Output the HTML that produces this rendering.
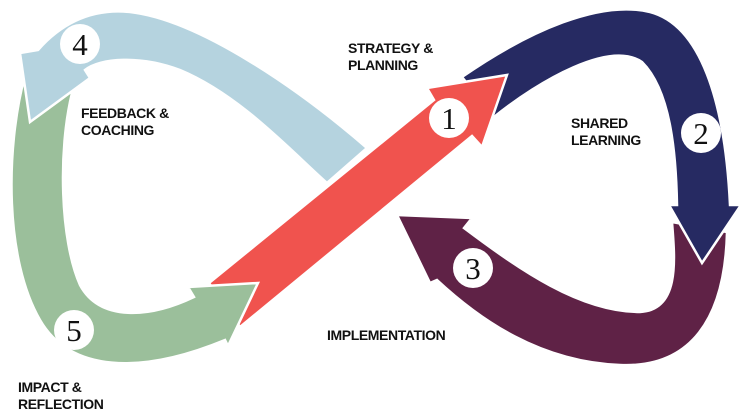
<!DOCTYPE html>
<html><head><meta charset="utf-8"><style>
html,body{margin:0;padding:0;background:#fff;}
svg{display:block}
.l{font-family:"Liberation Sans",sans-serif;font-weight:bold;font-size:14px;fill:#111;letter-spacing:-0.4px}
.n{font-family:"Liberation Serif",serif;font-size:31px;fill:#111;text-anchor:middle}
</style></head><body>
<svg width="744" height="418" viewBox="0 0 744 418">
<g stroke="#fff" stroke-width="2.5" stroke-linejoin="miter">
<path fill="#5f2246" d="M727,232 C725,320 690,368 620,365 C540,362 480,320 437,280 L430,283 L397,215 L472,218 L464,228 C520,270 580,312 640,312 C680,310 675,260 672,222 Z"/>
<path fill="#262a62" d="M462,77 C530,30 600,0 650,12 C700,25 725,100 730,205 L741,205 L702,263 L669,205 L677,205 C676,150 670,90 642,62 C610,40 540,80 494,117 Z"/>
<path fill="#f0534e" d="M209,283 L434,100 L427,88 L507,75 L482,147 L472,136 L240,327 Z"/>
<path fill="#9bbf9b" d="M25,75 C5,150 5,260 40,320 C70,372 140,375 225,340 L228,346 L258,283 L188,287 L194,297 C150,318 100,322 80,285 C60,240 58,150 72,93 Z"/>
<path fill="#b5d3df" d="M367,148 C300,90 200,20 130,12 C90,8 60,25 38,50 L20,53 L30,122 L90,78 L85,70 C100,58 140,55 180,70 C240,95 290,150 327,183 Z"/>
</g>
<g fill="#fff">
<circle cx="80" cy="44" r="20"/><circle cx="449" cy="118" r="20"/><circle cx="701" cy="133" r="20"/><circle cx="473" cy="268" r="20"/><circle cx="74" cy="330" r="20"/>
</g>
<text class="n" x="80" y="55">4</text>
<text class="n" x="449" y="129">1</text>
<text class="n" x="701" y="144">2</text>
<text class="n" x="473" y="279">3</text>
<text class="n" x="74" y="341">5</text>
<text class="l" x="348" y="53">STRATEGY &amp;</text>
<text class="l" x="348" y="70">PLANNING</text>
<text class="l" x="571" y="128">SHARED</text>
<text class="l" x="571" y="145">LEARNING</text>
<text class="l" x="81" y="118">FEEDBACK &amp;</text>
<text class="l" x="81" y="135">COACHING</text>
<text class="l" x="327" y="340">IMPLEMENTATION</text>
<text class="l" x="18" y="392">IMPACT &amp;</text>
<text class="l" x="18" y="409">REFLECTION</text>
</svg>
</body></html>
